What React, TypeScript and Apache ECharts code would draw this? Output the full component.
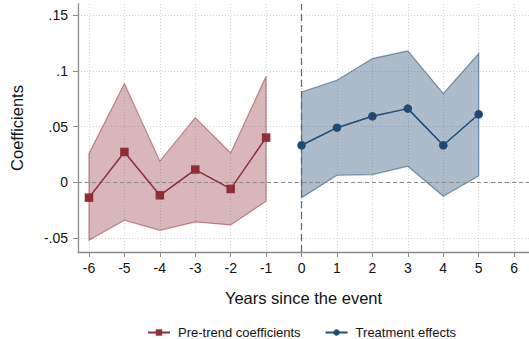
import React, { useEffect, useRef } from "react";
import * as echarts from "echarts";

const preX = [-6, -5, -4, -3, -2, -1];
const preCoef = [-0.0138, 0.0272, -0.0117, 0.0114, -0.006, 0.0401];
const preUpper = [0.0257, 0.0886, 0.0189, 0.058, 0.0263, 0.0951];
const preLower = [-0.052, -0.0341, -0.0431, -0.0356, -0.0383, -0.017];

const postX = [0, 1, 2, 3, 4, 5];
const postCoef = [0.0332, 0.049, 0.0592, 0.0661, 0.0332, 0.061];
const postUpper = [0.081, 0.0916, 0.111, 0.1179, 0.0796, 0.1155];
const postLower = [-0.0138, 0.0063, 0.0069, 0.0144, -0.0126, 0.0057];

const xTicks = [-6, -5, -4, -3, -2, -1, 0, 1, 2, 3, 4, 5, 6];
const yTicks = [-0.05, 0, 0.05, 0.1, 0.15];

const RED = "#8f2d38";
const BLUE = "#1f4a72";
const FONT = "Liberation Sans, Arial, sans-serif";

function fmtY(v: number) {
  if (Math.abs(v) < 1e-9) return "0";
  const s = String(Math.round(v * 100) / 100);
  return s.replace(/^(-?)0\./, "$1.");
}

function bandSeries(xs: number[], up: number[], lo: number[], fill: string, stroke: string) {
  return {
    type: "custom",
    silent: true,
    z: 1,
    data: xs.map((x, i) => [x, up[i], lo[i]]),
    renderItem: (params: any, api: any) => {
      if (params.dataIndex !== 0) return null;
      const pts: number[][] = [];
      for (let i = 0; i < xs.length; i++) pts.push(api.coord([xs[i], up[i]]));
      for (let i = xs.length - 1; i >= 0; i--) pts.push(api.coord([xs[i], lo[i]]));
      return {
        type: "polygon",
        shape: { points: pts },
        style: { fill, stroke, lineWidth: 1.2 },
      };
    },
  };
}

export default function App() {
  const ref = useRef<HTMLDivElement>(null);
  useEffect(() => {
    const chart = echarts.init(ref.current!, null, { renderer: "svg" });
    chart.setOption({
      animation: false,
      backgroundColor: "#ffffff",
      textStyle: { fontFamily: FONT },
      grid: { left: 75, top: 4, right: 0, bottom: 87, containLabel: false },
      xAxis: {
        type: "value",
        min: -6.31,
        max: 6.42,
        name: "Years since the event",
        nameLocation: "middle",
        nameGap: 37,
        nameTextStyle: { fontSize: 16.5, color: "#111", fontFamily: FONT },
        axisLine: { show: true, onZero: false, lineStyle: { color: "#8a8a8a", width: 1.3 } },
        axisTick: { show: true, length: 5, lineStyle: { color: "#8a8a8a" }, customValues: xTicks },
        axisLabel: { customValues: xTicks, color: "#111", fontSize: 14, margin: 9, fontFamily: FONT },
        splitLine: { show: true, lineStyle: { color: "#d6d6d6", type: [1, 2], width: 1 } },
      },
      yAxis: {
        type: "value",
        min: -0.0626,
        max: 0.16,
        name: "Coefficients",
        nameLocation: "middle",
        nameGap: 53,
        nameTextStyle: { fontSize: 16.5, color: "#111", fontFamily: FONT },
        axisLine: { show: true, onZero: false, lineStyle: { color: "#8a8a8a", width: 1.3 } },
        axisTick: { show: true, length: 5, lineStyle: { color: "#8a8a8a" }, customValues: yTicks },
        axisLabel: {
          customValues: yTicks,
          color: "#111",
          fontSize: 14,
          margin: 10,
          fontFamily: FONT,
          formatter: (v: number) => fmtY(v),
        },
        splitLine: { show: true, lineStyle: { color: "#d6d6d6", type: [1, 2], width: 1 } },
      },
      legend: {
        top: 321,
        left: 142,
        itemGap: 24,
        itemWidth: 22,
        itemHeight: 8,
        textStyle: { fontSize: 13, color: "#111", fontFamily: FONT, padding: [0, 0, 0, 3] },
        data: ["Pre-trend coefficients", "Treatment effects"],
      },
      series: [
        bandSeries(preX, preUpper, preLower, "rgba(143,45,56,0.35)", "rgba(143,45,56,0.5)"),
        bandSeries(postX, postUpper, postLower, "rgba(31,74,114,0.37)", "rgba(31,74,114,0.55)"),
        {
          type: "line",
          name: "zeroRefs",
          data: [],
          silent: true,
          markLine: {
            silent: true,
            symbol: "none",
            label: { show: false },
            data: [
              { yAxis: 0, lineStyle: { color: "#8a8a8a", type: [4, 3], width: 1 } },
              { xAxis: 0, lineStyle: { color: "#666666", type: [7, 4], width: 1.2 } },
            ],
          },
          z: 2,
        },
        {
          type: "line",
          name: "Pre-trend coefficients",
          data: preX.map((x, i) => [x, preCoef[i]]),
          symbol: "rect",
          symbolSize: 8.5,
          itemStyle: { color: RED },
          lineStyle: { color: RED, width: 1.5 },
          z: 5,
        },
        {
          type: "line",
          name: "Treatment effects",
          data: postX.map((x, i) => [x, postCoef[i]]),
          symbol: "circle",
          symbolSize: 8.5,
          itemStyle: { color: BLUE },
          lineStyle: { color: BLUE, width: 1.5 },
          z: 5,
        },
      ],
    });
    return () => chart.dispose();
  }, []);
  return (
    <div
      ref={ref}
      style={{ position: "fixed", left: 0, top: 0, width: 529, height: 339 }}
    />
  );
}
